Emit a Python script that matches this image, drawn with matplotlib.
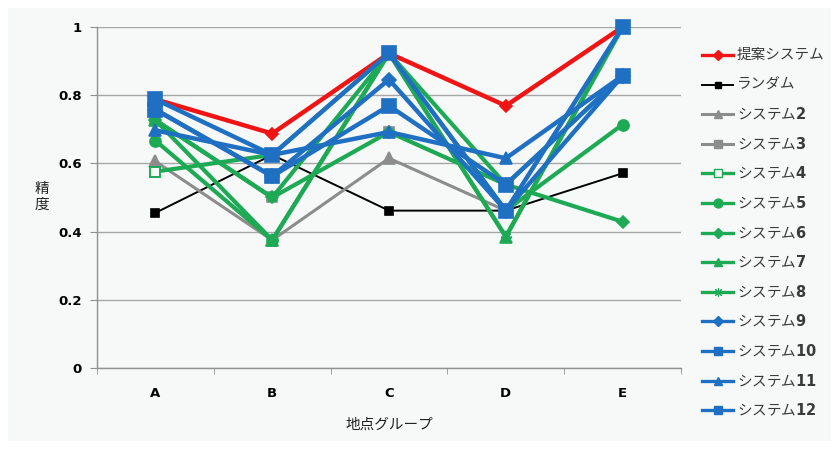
import matplotlib
matplotlib.use("Agg")
import matplotlib.pyplot as plt
from matplotlib.lines import Line2D
from matplotlib.patches import Rectangle

plt.rcParams['font.family'] = ['Noto Sans CJK JP', 'DejaVu Sans']
plt.rcParams['mathtext.fontset'] = 'dejavusans'

categories = ['A', 'B', 'C', 'D', 'E']

proposed = [0.788, 0.6875, 0.923, 0.769, 1.0]
random_sel = [0.455, 0.625, 0.4615, 0.4615, 0.571]
system2 = [0.606, 0.375, 0.615, 0.4615, 1.0]
system3 = [0.727, 0.5, 0.692, 0.538, 0.857]
system4 = [0.576, 0.625, 0.923, 0.538, 0.857]
system5 = [0.667, 0.375, 0.923, 0.4615, 0.714]
system6 = [0.727, 0.5, 0.692, 0.538, 0.429]
system7 = [0.727, 0.375, 0.923, 0.385, 1.0]
system8 = [0.727, 0.5, 0.923, 0.385, 1.0]
system9 = [0.758, 0.5625, 0.846, 0.4615, 0.857]
system10 = [0.788, 0.625, 0.923, 0.4615, 1.0]
system11 = [0.697, 0.625, 0.692, 0.615, 0.857]
system12 = [0.758, 0.5625, 0.769, 0.538, 0.857]

yticks = [0, 0.2, 0.4, 0.6, 0.8, 1]
ytick_labels = ['0', '0.2', '0.4', '0.6', '0.8', '1']

RED = '#f01414'
BLUE = '#1f6fc2'
GREEN = '#1eaa55'
GREY = '#8c8c8c'
ASTERISK = (8, 2, 0)

# (label, values, color, marker, markersize, linewidth, filled)
series = [
    ('提案システム', proposed, RED, 'D', 6, 3.2, True),
    ('ランダム', random_sel, 'black', 's', 6, 1.4, True),
    ('システム$\\mathbf{2}$', system2, GREY, '^', 8, 2.2, True),
    ('システム$\\mathbf{3}$', system3, GREY, 's', 7, 2.2, True),
    ('システム$\\mathbf{4}$', system4, GREEN, 's', 7, 3.0, False),
    ('システム$\\mathbf{5}$', system5, GREEN, 'o', 8, 3.0, True),
    ('システム$\\mathbf{6}$', system6, GREEN, 'D', 6, 3.0, True),
    ('システム$\\mathbf{7}$', system7, GREEN, '^', 8, 3.0, True),
    ('システム$\\mathbf{8}$', system8, GREEN, ASTERISK, 8, 3.0, True),
    ('システム$\\mathbf{9}$', system9, BLUE, 'D', 7, 3.2, True),
    ('システム$\\mathbf{10}$', system10, BLUE, 's', 10, 3.2, True),
    ('システム$\\mathbf{11}$', system11, BLUE, '^', 9, 3.2, True),
    ('システム$\\mathbf{12}$', system12, BLUE, 's', 10, 3.2, True),
]

fig = plt.figure(figsize=(8.39, 4.49), dpi=100)
fig.patch.set_facecolor('white')
fig.add_artist(Rectangle((8 / 839, 8 / 449), 823 / 839, 433 / 449,
                         transform=fig.transFigure, facecolor='#f7f9f9',
                         edgecolor='none', zorder=-10))

ax = fig.add_axes([97 / 839, 1 - 368 / 449, 584 / 839, 341 / 449])
ax.set_facecolor('none')

x = list(range(len(categories)))
for i, (label, vals, color, marker, ms, lw, filled) in enumerate(series):
    ax.plot(x, vals, color=color, linewidth=lw, marker=marker, markersize=ms,
            markerfacecolor=color if filled else '#f7f9f9',
            markeredgecolor=color, markeredgewidth=1.2 if filled else 1.4,
            zorder=2 + i * 0.1, clip_on=False)

ax.set_xlim(-0.5, len(categories) - 0.5)
ax.set_ylim(0, 1)
ax.set_yticks(yticks)
ax.set_yticklabels(ytick_labels, fontsize=9.5, fontweight='bold',
                   family='DejaVu Sans')
ax.set_xticks(x)
ax.set_xticklabels(categories, fontsize=9.5, fontweight='bold',
                   family='DejaVu Sans')
ax.set_xticks([v - 0.5 for v in range(len(categories) + 1)], minor=True)
ax.tick_params(axis='x', which='major', length=0, pad=14)
ax.tick_params(axis='x', which='minor', length=4, color='#909090')
ax.tick_params(axis='y', length=5, color='#909090', pad=6)
ax.yaxis.grid(True, color='#a6a6a6', linewidth=1.0)
ax.set_axisbelow(True)
for side in ('top', 'right'):
    ax.spines[side].set_visible(False)
for side in ('left', 'bottom'):
    ax.spines[side].set_color('#909090')
    ax.spines[side].set_linewidth(1.0)

fig.text(389 / 839, 1 - 425 / 449, '地点グループ', ha='center', va='center',
         fontsize=10.5, color='#202020')
fig.text(42 / 839, 1 - 197 / 449, '精\n度', ha='center', va='center',
         fontsize=10.5, color='#202020', linespacing=1.15)

# legend drawn row by row
row0 = 55
step = 29.6
for i, (label, vals, color, marker, ms, lw, filled) in enumerate(series):
    yy = 1 - (row0 + i * step) / 449
    lwid = min(lw, 2.4)
    fig.add_artist(Line2D([702 / 839, 733 / 839], [yy, yy],
                          transform=fig.transFigure, color=color,
                          linewidth=lwid))
    fig.add_artist(Line2D([717.5 / 839], [yy], transform=fig.transFigure,
                          color=color, marker=marker,
                          markersize=min(ms, 8) * 0.8,
                          markerfacecolor=color if filled else '#f7f9f9',
                          markeredgecolor=color,
                          markeredgewidth=0.8 if marker == ASTERISK else 1.0))
    fig.text(737 / 839, yy, label, ha='left', va='center', fontsize=10.5,
             color='#3a3a3a')

fig.savefig('out.png', dpi=100, facecolor=fig.get_facecolor())
